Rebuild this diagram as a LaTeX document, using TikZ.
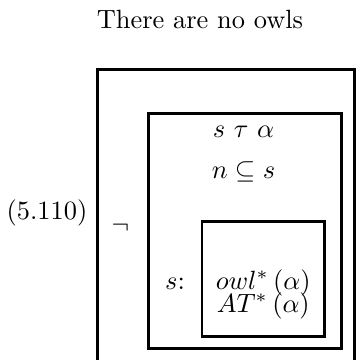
\documentclass[tikz,border=0pt]{standalone}
\begin{document}
\begin{tikzpicture}[x=0.379pt,y=-0.379pt,
  boxline/.style={draw=black,line width=1.1pt},
  txt/.style={anchor=base,inner sep=0pt,outer sep=0pt}]
\useasboundingbox (0,0) rectangle (358,360);
\clip (0,0) rectangle (358,360);
% boxes
\draw[boxline] (97.5,375) -- (97.5,69.5) -- (354.5,69.5) -- (354.5,375);
\draw[boxline] (148.5,113.5) rectangle (341.5,348.5);
\draw[boxline] (202,221.7) rectangle (324.8,336.7);
% texts
\node[txt] (title) at (200,28) {There are no owls};
\node[txt] (eqnum) at (47,219) {(5.110)};
\node[txt] (negsym) at (120.5,233) {$\neg$};
\node[txt] (cond1) at (243.5,137) {$s\ \tau\ \alpha$};
\node[txt] (cond2) at (243.5,178) {$n \subseteq s$};
\node[txt] (slabel) at (175,289) {$s$:};
\node[txt] (owl) at (263.3,289) {$owl^*\,(\alpha)$};
\node[txt] (at) at (263.3,312) {$AT^*\,(\alpha)$};
\end{tikzpicture}
\end{document}
